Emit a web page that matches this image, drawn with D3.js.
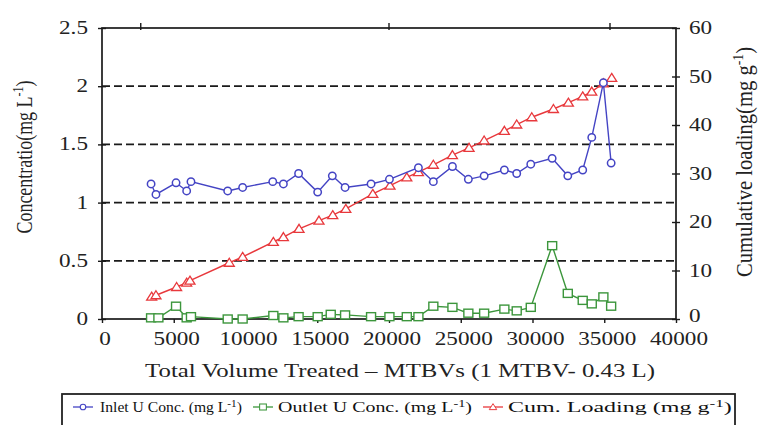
<!DOCTYPE html>
<html>
<head>
<meta charset="utf-8">
<script src="https://cdn.jsdelivr.net/npm/d3@7/dist/d3.min.js"></script>
<style>
  body { margin: 0; background: #fff; }
</style>
</head>
<body>
<svg id="chart" width="759" height="425"></svg>
<script>
// inlet U conc. (mg/L)
const inletX = [3420, 3760, 5160, 5900, 6200, 8760, 9800, 11900, 12640, 13700, 15030, 16050, 16940, 18750, 20030,
  22050, 23090, 24420, 25530, 26630, 28040, 28900, 29880, 31370, 32460, 33500, 34130, 34940, 35480]
const inletY = [1.16, 1.07, 1.17, 1.10, 1.18, 1.10, 1.13, 1.18, 1.16, 1.25, 1.09, 1.23, 1.13, 1.16, 1.20,
  1.30, 1.18, 1.31, 1.20, 1.23, 1.28, 1.25, 1.33, 1.38, 1.23, 1.28, 1.56, 2.03, 1.34]

// outlet U conc. (mg/L)
const outletX = [3420, 3930, 5160, 5900, 6200, 8760, 9800, 11940, 12640, 13700, 15030, 15940, 16940, 18750, 20030,
  21240, 22050, 23090, 24420, 25530, 26630, 28040, 28900, 29880, 31370, 32460, 33500, 34130, 34940, 35480]
const outletY = [0.01, 0.01, 0.11, 0.01, 0.02, 0.0, 0.0, 0.03, 0.01, 0.02, 0.02, 0.04, 0.035, 0.02, 0.02,
  0.02, 0.02, 0.11, 0.10, 0.05, 0.05, 0.085, 0.07, 0.10, 0.63, 0.22, 0.16, 0.13, 0.19, 0.11]

// cumulative loading (mg/g)
const loadX = [3460, 3760, 5200, 5900, 6130, 8870, 9800, 11940, 12640, 13730, 15120, 16080, 16990, 18870, 20070,
  21240, 22050, 23090, 24420, 25580, 26630, 28040, 28900, 29950, 31460, 32500, 33500, 34130, 34940, 35520]
const loadY = [4.6, 4.9, 6.6, 7.5, 7.9, 11.6, 12.8, 15.9, 16.9, 18.6, 20.3, 21.4, 22.7, 25.8, 27.5,
  29.2, 30.3, 31.8, 33.8, 35.3, 36.8, 38.8, 40.1, 41.6, 43.3, 44.6, 45.9, 46.9, 48.6, 49.7]

const xTicks = [0, 5000, 10000, 15000, 20000, 25000, 30000, 35000, 40000]
const leftTicks = [0, 0.5, 1, 1.5, 2, 2.5]
const rightTicks = [0, 10, 20, 30, 40, 50, 60]
const gridLines = [0.5, 1, 1.5, 2]
const topTicks = [2700, 20000, 35400]

const svg = d3.select('#chart')
const L = 102, R = 676, T = 28, B = 319
const ink = '#1a1a1a'
const FONT = 'serif'

const x = d3.scaleLinear().domain([0, 40000]).range([L, R])
const yL = d3.scaleLinear().domain([0, 2.5]).range([B, T])
const yR = d3.scaleLinear().domain([0, 60]).range([B, T])

// plain text helper, font set straight on the element
function label (parent, txt, size) {
  return parent.append('text').attr('font-family', FONT).style('font-size', size + 'px')
    .attr('fill', '#222').text(txt)
}

// dashed grid
svg.append('g').selectAll('line').data(gridLines).join('line')
  .attr('x1', L).attr('x2', R)
  .attr('y1', d => yL(d)).attr('y2', d => yL(d))
  .attr('stroke', ink).attr('stroke-width', 1.7).attr('stroke-dasharray', '8,4')

// frame
svg.append('rect').attr('x', L).attr('y', T).attr('width', R - L).attr('height', B - T)
  .attr('fill', 'none').attr('stroke', ink).attr('stroke-width', 1.7)

svg.append('g').selectAll('line').data(topTicks).join('line')
  .attr('x1', d => x(d)).attr('x2', d => x(d)).attr('y1', T - 5).attr('y2', T + 2)
  .attr('stroke', ink).attr('stroke-width', 1.4)

// tick marks from the axis generators, labels drawn by hand
const axB = svg.append('g').attr('transform', `translate(0,${B})`)
  .call(d3.axisBottom(x).tickValues(xTicks).tickSize(4).tickFormat(''))
const axL = svg.append('g').attr('transform', `translate(${L},0)`)
  .call(d3.axisLeft(yL).tickValues(leftTicks).tickSize(4).tickFormat(''))
const axR = svg.append('g').attr('transform', `translate(${R},0)`)
  .call(d3.axisRight(yR).tickValues(rightTicks).tickSize(4).tickFormat(''))
;[axB, axL, axR].forEach(a => {
  a.select('.domain').remove()
  a.selectAll('text').remove()
  a.selectAll('line').attr('stroke', ink).attr('stroke-width', 1.4)
})
axL.selectAll('.tick line').attr('x1', -4).attr('x2', 4)
axR.selectAll('.tick line').attr('x1', -4).attr('x2', 4)

const SX = 1.22
xTicks.forEach(v => {
  label(svg, String(v), 19).attr('text-anchor', 'middle')
    .attr('transform', `translate(${x(v) + 3},${B + 26}) scale(${SX},1)`)
})
leftTicks.forEach(v => {
  label(svg, String(v), 19).attr('text-anchor', 'end')
    .attr('transform', `translate(${L - 14},${yL(v) + 6}) scale(${SX},1)`)
})
rightTicks.forEach(v => {
  label(svg, String(v), 19).attr('text-anchor', 'start')
    .attr('transform', `translate(${R + 13},${yR(v) + (v === 0 ? 3 : 6)}) scale(${SX},1)`)
})

// axis titles
const xt = label(svg, 'Total Volume Treated – MTBVs (1 MTBV- 0.43 L)', 19).attr('text-anchor', 'middle')
const xw = xt.node().getComputedTextLength()
xt.attr('transform', `translate(400,377) scale(${510 / xw},1)`)

function sideTitle (cx, cy, main, len) {
  const g = svg.append('g').attr('transform', `translate(${cx},${cy}) scale(1.25,1) rotate(-90)`)
  const t = label(g, null, 18).attr('text-anchor', 'middle').attr('y', 6)
  t.append('tspan').text(main)
  t.append('tspan').attr('dy', -7).style('font-size', '12px').text('-1')
  t.append('tspan').attr('dy', 7).text(')')
  const w = t.node().getComputedTextLength()
  t.attr('transform', `scale(${len / w},1)`)
}
sideTitle(24, 157, 'Concentratio(mg L', 153)
sideTitle(744, 162, 'Cumulative loading(mg g', 230)

// series
const blue = '#4444c4', green = '#3c963c', red = '#e8383c'

function series (xs, ys, yScale, color, shape) {
  const pts = xs.map((v, i) => [x(v), yScale(ys[i])])
  svg.append('path').attr('d', d3.line()(pts)).attr('fill', 'none')
    .attr('stroke', color).attr('stroke-width', 1.4)
  const g = svg.append('g')
  pts.forEach(p => drawMarker(g, p[0], p[1], color, shape))
}

function drawMarker (g, cx, cy, color, shape) {
  if (shape === 'circle') {
    g.append('circle').attr('cx', cx).attr('cy', cy).attr('r', 3.7)
      .attr('fill', '#fff').attr('stroke', color).attr('stroke-width', 1.5)
  } else if (shape === 'square') {
    g.append('rect').attr('x', cx - 4.5).attr('y', cy - 4).attr('width', 9).attr('height', 8)
      .attr('fill', '#fff').attr('stroke', color).attr('stroke-width', 1.4)
  } else {
    g.append('path').attr('d', `M${cx},${cy - 4.5}L${cx + 5},${cy + 3.5}L${cx - 5},${cy + 3.5}Z`)
      .attr('fill', '#fff').attr('stroke', color).attr('stroke-width', 1.3)
  }
}

series(loadX, loadY, yR, red, 'triangle')
series(outletX, outletY, yL, green, 'square')
series(inletX, inletY, yL, blue, 'circle')

// legend
const legendItems = [
  { label: 'Inlet U Conc. (mg L', unit: ')', color: blue, shape: 'circle', x: 73, tx: 100, tw: 142 },
  { label: 'Outlet U Conc. (mg L', unit: ')', color: green, shape: 'square', x: 253, tx: 278, tw: 194 },
  { label: 'Cum. Loading (mg g', unit: ')', color: red, shape: 'triangle', x: 483, tx: 508, tw: 224 }
]
svg.append('rect').attr('x', 62).attr('y', 394).attr('width', 673).attr('height', 40)
  .attr('fill', '#fff').attr('stroke', '#222').attr('stroke-width', 1.8)
const lg = svg.append('g')
legendItems.forEach(it => {
  const ly = 407
  lg.append('line').attr('x1', it.x).attr('x2', it.x + 20).attr('y1', ly).attr('y2', ly)
    .attr('stroke', it.color).attr('stroke-width', 1.3)
  const mg = lg.append('g').attr('transform', `translate(${it.x + 10},${ly}) scale(0.75)`)
  drawMarker(mg, 0, 0, it.color, it.shape)
  const t = label(lg, null, 14).attr('y', ly + 5).attr('fill', '#111')
  t.append('tspan').text(it.label)
  t.append('tspan').attr('dy', -5).style('font-size', '10px').text('-1')
  t.append('tspan').attr('dy', 5).text(it.unit)
  const w = t.node().getComputedTextLength()
  t.attr('transform', `translate(${it.tx},0) scale(${it.tw / w},1)`)
})
</script>
</body>
</html>
